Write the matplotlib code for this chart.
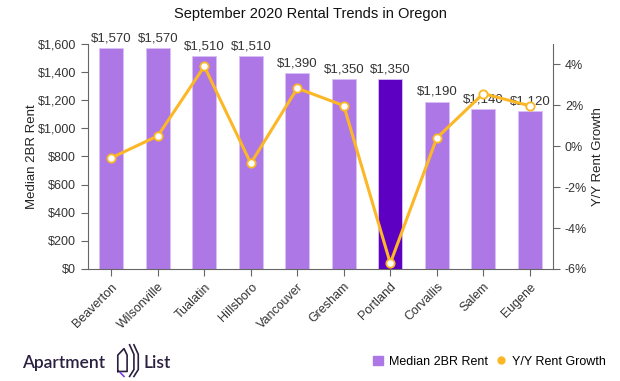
import matplotlib.pyplot as plt
from matplotlib.lines import Line2D
from matplotlib.patches import Patch
from matplotlib.ticker import FuncFormatter

plt.rcParams['font.family'] = ['Liberation Sans', 'DejaVu Sans']

cities = ['Beaverton', 'Wilsonville', 'Tualatin', 'Hillsboro', 'Vancouver',
          'Gresham', 'Portland', 'Corvallis', 'Salem', 'Eugene']
rent = [1570, 1570, 1510, 1510, 1390, 1350, 1350, 1190, 1140, 1120]
growth = [-0.57, 0.50, 3.90, -0.84, 2.83, 1.98, -5.72, 0.40, 2.57, 1.97]
highlight = 'Portland'

bar_col = '#ad78e6'
hi_col = '#5e00c2'
line_col = '#fbb725'
txt_col = '#333333'
ax_col = '#666666'

fig = plt.figure(figsize=(6.2, 3.81), dpi=100)
ax = fig.add_axes([0.142, 0.294, 0.750, 0.591])
ax2 = ax.twinx()

x = list(range(len(cities)))
colors = [hi_col if c == highlight else bar_col for c in cities]
ax.bar(x, rent, width=0.52, color=colors, edgecolor='#d9c2f5', linewidth=0.6, zorder=2)
for xi, v in zip(x, rent):
    ax.text(xi, v + 25, f'${v:,}', ha='center', va='bottom', fontsize=9.5, color=txt_col)

ax2.plot(x, growth, color=line_col, linewidth=2.2, marker='o', markersize=6,
         markerfacecolor='white', markeredgecolor=line_col, markeredgewidth=1.3, zorder=3)

ax.set_xlim(-0.5, len(cities) - 0.5)
ax.set_ylim(0, 1600)
ax2.set_ylim(-6, 5)
ax.set_yticks(range(0, 1601, 200))
ax.yaxis.set_major_formatter(FuncFormatter(lambda v, p: f'${int(v):,}'))
ax2.set_yticks([-6, -4, -2, 0, 2, 4])
ax2.yaxis.set_major_formatter(FuncFormatter(lambda v, p: f'{int(v)}%'))

ax.set_xticks(x)
ax.set_xticklabels(cities, rotation=45, ha='right', rotation_mode='anchor', fontsize=9, color=txt_col)
ax.set_ylabel('Median 2BR Rent', fontsize=9.5, color='#222222')
ax2.set_ylabel('Y/Y Rent Growth', fontsize=9.5, color='#222222')
ax.yaxis.set_label_coords(-0.108, 0.5)
ax2.yaxis.set_label_coords(1.084, 0.5)

for a in (ax, ax2):
    a.spines['top'].set_visible(False)
    for s in ('left', 'right', 'bottom'):
        a.spines[s].set_color(ax_col)
    a.tick_params(colors=ax_col, labelcolor=txt_col, labelsize=9, length=5)
ax2.spines['left'].set_visible(False)
ax2.spines['bottom'].set_visible(False)
ax.spines['right'].set_visible(False)
ax2.patch.set_visible(False)
ax2.set_zorder(1)

fig.text(0.5, 0.962, 'September 2020 Rental Trends in Oregon', ha='center', va='center',
         fontsize=10.5, color='#111111')

handles = [Patch(facecolor=bar_col, edgecolor=bar_col, label='Median 2BR Rent'),
           Line2D([], [], marker='o', linestyle='none', color=line_col, markersize=5,
                  label='Y/Y Rent Growth')]
fig.legend(handles=handles, loc='center right', bbox_to_anchor=(0.995, 0.05), ncol=2,
           frameon=False, fontsize=9, handlelength=0.8, handleheight=0.8,
           handletextpad=0.5, columnspacing=0.6)

# logo
logo_col = '#2b1f3f'
fig.text(0.035, 0.048, 'Apartment', ha='left', va='center', fontsize=12.5, color=logo_col,
         family=['Lato', 'DejaVu Sans'], weight='semibold')
fig.text(0.232, 0.048, 'List', ha='left', va='center', fontsize=12.5, color=logo_col,
         family=['Lato', 'DejaVu Sans'], weight='semibold')
# simple icon: outlined house with chevrons
fig.add_artist(Line2D([0.190, 0.190, 0.200, 0.205, 0.205, 0.190],
                      [0.025, 0.068, 0.085, 0.068, 0.025, 0.025],
                      color=logo_col, linewidth=1.2))
fig.add_artist(Line2D([0.194, 0.200], [0.022, 0.012], color='#7b3fe4', linewidth=1.2))
for dx in (0.0, 0.007):
    fig.add_artist(Line2D([0.209 + dx, 0.216 + dx, 0.216 + dx, 0.209 + dx],
                          [0.095, 0.07, 0.03, 0.012], color=logo_col, linewidth=1.2))

fig.savefig('out.png', dpi=100)
